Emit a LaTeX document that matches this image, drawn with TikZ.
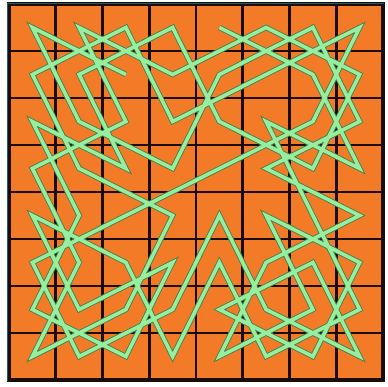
\documentclass[tikz,border=0pt]{standalone}
\usepackage{xcolor}

\definecolor{boardorange}{RGB}{243,123,40}
\definecolor{gridblack}{RGB}{28,12,6}
\definecolor{tourmint}{RGB}{150,238,158}
\definecolor{touredge}{RGB}{70,130,75}
\definecolor{frameteal}{RGB}{30,95,95}

\begin{document}
\begin{tikzpicture}[x=46.75pt, y=-47pt,
    gridline/.style={draw=gridblack, line width=2.8pt},
    tourline/.style={draw=touredge, line width=0.9pt, double=tourmint,
      double distance=3.6pt, line join=miter}]

  \useasboundingbox (-0.1925,-0.0851) rectangle (8.1070,8.1277);

  % -- Board --
  \fill[boardorange] (0,0) rectangle (8,8);
  \foreach \i in {1,...,7} {
    \draw[gridline] (\i,0) -- (\i,8);
    \draw[gridline] (0,\i) -- (8,\i);
  }
  \draw[gridline, line width=3.4pt] (0,0) rectangle (8,8);
  \draw[frameteal, line width=0.8pt] (-0.04,8.02) -- (-0.04,-0.02) -- (8.03,-0.02);

  % -- Knight's tour --
  \draw[tourline] (2.5,1.5) -- (0.5,0.5) -- (1.5,2.5) -- (3.5,3.5) -- (4.5,1.5)
    -- (6.5,0.5) -- (7.5,2.5) -- (5.5,3.5) -- (7.5,4.5) -- (5.5,5.5)
    -- (4.5,7.5) -- (6.5,6.5) -- (5.5,4.5) -- (7.5,5.5) -- (6.5,7.5)
    -- (4.5,6.5) -- (6.5,5.5) -- (7.5,7.5) -- (5.5,6.5) -- (4.5,4.5)
    -- (3.5,6.5) -- (1.5,7.5) -- (0.5,5.5) -- (2.5,4.5) -- (4.5,3.5)
    -- (6.5,2.5) -- (7.5,0.5) -- (5.5,1.5) -- (3.5,2.5) -- (2.5,0.5)
    -- (0.5,1.5) -- (1.5,3.5) -- (3.5,4.5) -- (2.5,6.5) -- (0.5,7.5)
    -- (1.5,5.5) -- (0.5,3.5) -- (2.5,2.5) -- (1.5,0.5) -- (3.5,1.5)
    -- (5.5,0.5) -- (7.5,1.5) -- (6.5,3.5) -- (4.5,2.5) -- (3.5,0.5)
    -- (1.5,1.5) -- (2.5,3.5) -- (0.5,2.5) -- (1.5,4.5) -- (0.5,6.5)
    -- (2.5,7.5) -- (3.5,5.5) -- (1.5,6.5) -- (0.5,4.5) -- (2.5,5.5)
    -- (3.5,7.5) -- (4.5,5.5) -- (5.5,7.5) -- (7.5,6.5) -- (6.5,4.5)
    -- (5.5,2.5) -- (7.5,3.5) -- (6.5,1.5) -- (4.5,0.5);

\end{tikzpicture}
\end{document}
